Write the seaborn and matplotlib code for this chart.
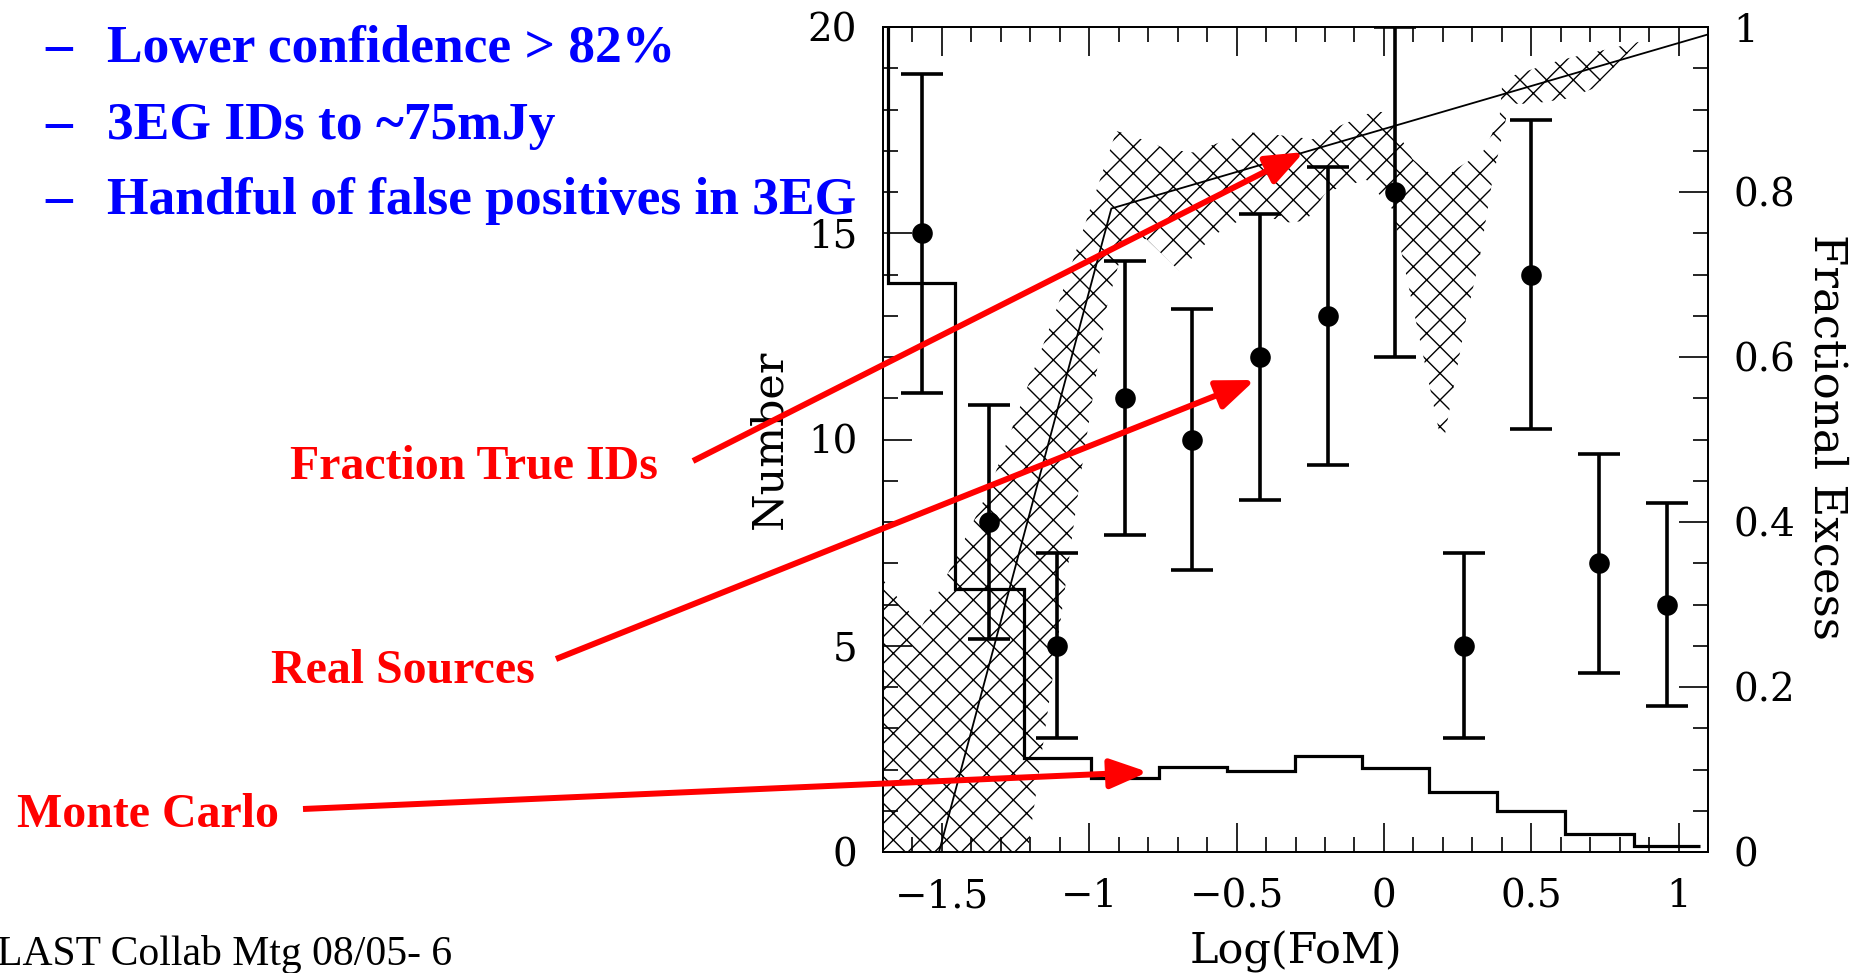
import matplotlib
matplotlib.use("Agg")
import matplotlib.pyplot as plt
import seaborn as sns
from matplotlib.ticker import FixedLocator, MultipleLocator
from matplotlib.text import Annotation

W, H, DPI = 1863, 973, 80
S = 100 / DPI  # sizes below are given for a 100-dpi basis

# ---------------- data ----------------
bin_centers = [-1.567, -1.339, -1.109, -0.879, -0.650, -0.420, -0.190, 0.039, 0.271, 0.500, 0.729, 0.960]
real_counts = [15, 8, 5, 11, 10, 12, 13, 16, 5, 14, 7, 6]
real_errors = [3.87, 2.83, 2.24, 3.32, 3.16, 3.46, 3.61, 4.00, 2.24, 3.74, 2.65, 2.45]

mc_edges = [-1.914, -1.684, -1.454, -1.222, -0.994, -0.762, -0.532, -0.302, -0.073,
            0.152, 0.384, 0.616, 0.848, 1.073]
mc_counts = [24.0, 13.8, 6.38, 2.28, 1.80, 2.07, 1.97, 2.32, 2.03, 1.45, 1.00, 0.44, 0.14]

frac_x = [-1.51, -0.925, 1.10]
frac_y = [0.0, 0.78, 0.991]

band_upper_x = [-1.70, -1.569, -1.339, -1.109, -0.908, -0.806, -0.738, -0.648, -0.558, -0.446,
                -0.332, -0.242, -0.151, -0.040, 0.010, 0.097, 0.190, 0.245, 0.335, 0.392,
                0.403, 0.600, 0.866]
band_upper_y = [0.330, 0.273, 0.440, 0.660, 0.874, 0.862, 0.852, 0.848, 0.860, 0.872,
                0.868, 0.864, 0.880, 0.897, 0.897, 0.840, 0.812, 0.828, 0.848, 0.888,
                0.937, 0.960, 0.982]
band_lower_x = [0.866, 0.708, 0.618, 0.505, 0.425, 0.414, 0.369, 0.324, 0.279, 0.199,
                0.029, -0.060, -0.196, -0.264, -0.331, -0.444, -0.580, -0.693, -0.806, -0.879,
                -0.941, -1.032, -1.109, -1.209, -1.300, -1.700]
band_lower_y = [0.982, 0.925, 0.913, 0.907, 0.907, 0.888, 0.816, 0.718, 0.646, 0.490,
                0.779, 0.815, 0.800, 0.765, 0.763, 0.775, 0.747, 0.704, 0.743, 0.740,
                0.660, 0.450, 0.250, 0.000, -0.050, -0.050]

x_ticks = [-1.5, -1.0, -0.5, 0.0, 0.5, 1.0]
x_tick_labels = ["\u22121.5", "\u22121", "\u22120.5", "0", "0.5", "1"]
left_ticks = [0, 5, 10, 15, 20]
left_tick_labels = ["0", "5", "10", "15", "20"]
right_ticks = [0.0, 0.2, 0.4, 0.6, 0.8, 1.0]
right_tick_labels = ["0", "0.2", "0.4", "0.6", "0.8", "1"]

bullets = ["Lower confidence > 82%", "3EG IDs to ~75mJy", "Handful of false positives in 3EG"]
callouts = ["Fraction True IDs", "Real Sources", "Monte Carlo"]
footer = "LAST Collab Mtg 08/05- 6"

# ---------------- style ----------------
sns.set_theme(style="ticks")
plt.rcParams["font.family"] = ["DejaVu Serif", "DejaVu Sans"]
plt.rcParams["hatch.linewidth"] = 1.0 * S
plt.rcParams["hatch.color"] = "black"
plt.rcParams["axes.linewidth"] = 1.3 * S

fig = plt.figure(figsize=(W / DPI, H / DPI), dpi=DPI)
fig.patch.set_facecolor("white")

L, R, T, B = 883, 1708, 27, 852
ax = fig.add_axes([L / W, 1 - B / H, (R - L) / W, (B - T) / H])
ax.set_facecolor("white")

# Monte Carlo histogram
ax.stairs(mc_counts, mc_edges, baseline=None, color="black", linewidth=2.3 * S, zorder=3)

# Real sources with Poisson errors
ax.errorbar(bin_centers, real_counts, yerr=real_errors, fmt="none", ecolor="black",
            elinewidth=2.6 * S, capsize=15 * S, capthick=2.6 * S, zorder=4)
sns.scatterplot(x=bin_centers, y=real_counts, ax=ax, color="black", s=220 * S * S,
                linewidth=0, zorder=5, legend=False)

ax.set_xlim(-1.7, 1.1)
ax.set_ylim(0, 20)
ax.xaxis.set_major_locator(FixedLocator(x_ticks))
ax.set_xticklabels(x_tick_labels)
ax.xaxis.set_minor_locator(MultipleLocator(0.1))
ax.yaxis.set_major_locator(FixedLocator(left_ticks))
ax.set_yticklabels(left_tick_labels)
ax.yaxis.set_minor_locator(MultipleLocator(1))
ax.tick_params(axis="both", which="both", direction="in", colors="black", width=1.2 * S)
ax.tick_params(axis="x", which="both", top=True, bottom=True, labelsize=28 * S, pad=19 * S)
ax.tick_params(axis="y", which="both", left=True, right=False, labelsize=28 * S, pad=18.5 * S)
ax.tick_params(which="major", length=21 * S)
ax.tick_params(which="minor", length=10.5 * S)
for s in ax.spines.values():
    s.set_color("black")
    s.set_linewidth(1.3 * S)

ax.set_xlabel("Log(FoM)", fontsize=31 * S, va="center", color="black")
ax.xaxis.set_label_coords(0.5, -0.121)
ax.set_ylabel("Number", fontsize=31 * S, va="center", color="black")
ax.yaxis.set_label_coords(-0.138, 0.5)

# Right axis: fractional excess
ax2 = ax.twinx()
ax2.set_ylim(0, 1)
poly_x = band_upper_x + band_lower_x
poly_y = band_upper_y + band_lower_y
ax2.fill(poly_x, poly_y, facecolor="none", edgecolor="black", hatch="x", linewidth=0, zorder=2)
sns.lineplot(x=frac_x, y=frac_y, ax=ax2, color="black", linewidth=1.3 * S, sort=False,
             estimator=None, zorder=3)
ax2.set_xlim(-1.7, 1.1)
ax2.yaxis.set_major_locator(FixedLocator(right_ticks))
ax2.set_yticklabels(right_tick_labels)
ax2.yaxis.set_minor_locator(MultipleLocator(0.05))
ax2.tick_params(axis="y", which="both", direction="in", right=True, left=False,
                labelsize=28 * S, pad=18.5 * S, width=1.2 * S, colors="black")
ax2.tick_params(which="major", length=21 * S)
ax2.tick_params(which="minor", length=10.5 * S)
ax2.set_ylabel("Fractional Excess", fontsize=32.5 * S, rotation=270, va="center", color="black")
ax2.yaxis.set_label_coords(1.144, 0.503)
for s in ax2.spines.values():
    s.set_color("black")
    s.set_linewidth(1.3 * S)

# ---------------- slide text ----------------
def fx(px):
    return px / W

def fy(py):
    return 1 - py / H

blue = (0, 0, 1)
red = (1, 0, 0)
for txt, yb in zip(bullets, [62, 139, 214]):
    fig.text(fx(45), fy(yb), "\u2013", color=blue, fontsize=38.5 * S, fontweight="bold",
             family="Liberation Serif", va="baseline", ha="left")
    fig.text(fx(107), fy(yb), txt, color=blue, fontsize=38.5 * S, fontweight="bold",
             family="Liberation Serif", va="baseline", ha="left")

for txt, (xl, yb) in zip(callouts, [(290, 479), (271, 683), (17, 827)]):
    fig.text(fx(xl), fy(yb), txt, color=red, fontsize=34.5 * S, fontweight="bold",
             family="Liberation Serif", va="baseline", ha="left")

fig.text(fx(-3), fy(965), footer, color="black", fontsize=30 * S,
         family="Liberation Serif", va="baseline", ha="left")

# red arrows (figure pixel coordinates)
arrows = [((693, 461), (1304, 152)), ((556, 659), (1255, 380)), ((303, 809), (1148, 772))]
for (tx, ty), (hx, hy) in arrows:
    ann = Annotation("", xy=(hx, H - hy), xytext=(tx, H - ty),
                     xycoords="figure pixels", textcoords="figure pixels",
                     arrowprops=dict(arrowstyle="-|>,head_length=1.15,head_width=0.45",
                                     color=red, lw=4.3 * S, mutation_scale=20 * S,
                                     shrinkA=0, shrinkB=0, capstyle="butt"),
                     annotation_clip=False)
    fig.add_artist(ann)

fig.savefig("out.png", dpi=DPI, facecolor="white")
